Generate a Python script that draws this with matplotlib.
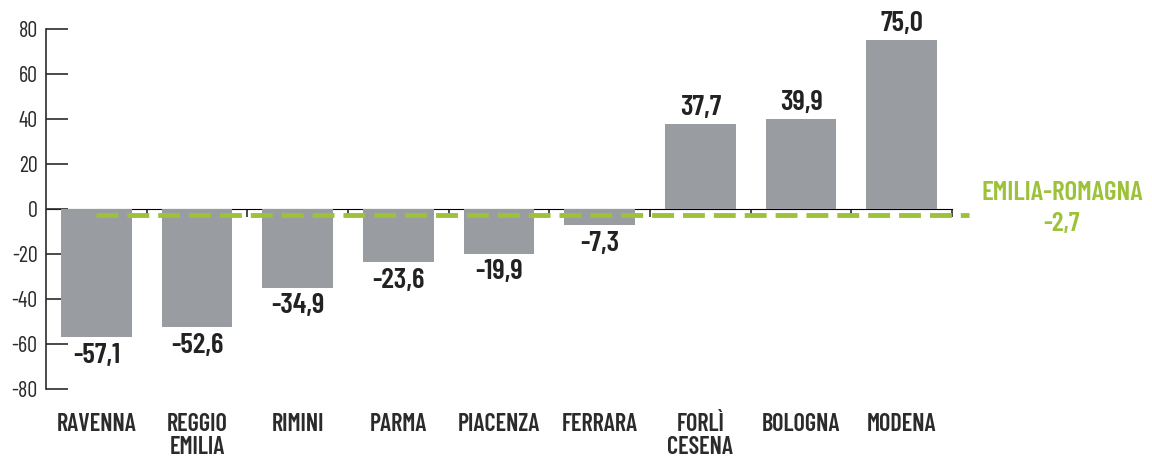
import matplotlib
matplotlib.use("Agg")
import matplotlib.pyplot as plt
from matplotlib import font_manager

categories = ["RAVENNA", "REGGIO\nEMILIA", "RIMINI", "PARMA", "PIACENZA", "FERRARA", "FORLÌ\nCESENA", "BOLOGNA", "MODENA"]
values = [-57.1, -52.6, -34.9, -23.6, -19.9, -7.3, 37.7, 39.9, 75.0]
region_name = "EMILIA-ROMAGNA"
region_value = -2.7
yticks = [-80, -60, -40, -20, 0, 20, 40, 60, 80]

names = {f.name for f in font_manager.fontManager.ttflist}
# font, (ytick size, category size, value size, region size)
candidates = [
    ("Barlow Condensed", (16, 17.5, 21, 19.5)),
    ("Roboto Condensed", (15, 15, 21, 17)),
]
FONT, SIZES = "DejaVu Sans", (13, 12, 17, 14)
for cand, sz in candidates:
    if cand in names:
        FONT, SIZES = cand, sz
        break
YT, CAT, VAL, REG = SIZES
plt.rcParams['font.family'] = [FONT, 'DejaVu Sans']

BAR = "#999da2"
GREEN = "#9dc23a"
DARK = "#2b2b2b"

fig = plt.figure(figsize=(11.52, 4.58), dpi=100)
ax = fig.add_axes([46/1152, 1-389/458, (952-46)/1152, (389-29)/458])

x = list(range(len(categories)))
ax.bar(x, values, width=0.7, color=BAR, zorder=2)

ax.set_xlim(-0.5, len(categories)-0.5)
ax.set_ylim(-80, 80)

for s in ["top", "right", "bottom"]:
    ax.spines[s].set_visible(False)
ax.spines["left"].set_color(DARK)
ax.spines["left"].set_linewidth(1.2)

ax.set_yticks(yticks)
ax.set_yticklabels([str(v) for v in yticks])
ax.tick_params(axis="y", direction="in", length=16, width=1.2, color=DARK, labelsize=YT, pad=6, labelcolor=DARK)

ax.set_xticks(x)
ax.set_xticklabels(categories, fontweight="semibold", fontsize=CAT, linespacing=1.0, color=DARK, va="top")
ax.tick_params(axis="x", length=0, pad=17)

# zero line with boundary ticks
sec = ax.secondary_xaxis(0.5)
sec.set_xticks([i + 0.5 for i in x])
sec.set_xticklabels([])
sec.tick_params(axis="x", direction="in", length=6, width=1.2, color=DARK)
sec.spines["bottom"].set_color(DARK)
sec.spines["bottom"].set_linewidth(1.2)
sec.set_zorder(1)

ax.plot([0, len(categories)-0.5+0.17], [region_value, region_value], color=GREEN, lw=3.5,
        dashes=(4.5, 1.85), zorder=3, clip_on=False, dash_capstyle="butt")

for xi, v in zip(x, values):
    txt = f"{v:.1f}".replace(".", ",")
    if v >= 0:
        ax.annotate(txt, (xi, v), xytext=(0, 3), textcoords="offset points", ha="center", va="bottom",
                    fontsize=VAL, fontweight="semibold", color="#222222")
    else:
        ax.annotate(txt, (xi, v), xytext=(0, -4), textcoords="offset points", ha="center", va="top",
                    fontsize=VAL, fontweight="semibold", color="#222222")

fig.text(1062/1152, 1-193/458, region_name, ha="center", va="center", fontsize=REG, fontweight="semibold", color=GREEN)
fig.text(1062/1152, 1-224/458, f"{region_value:.1f}".replace(".", ","), ha="center", va="center",
         fontsize=REG, fontweight="semibold", color=GREEN)

fig.savefig("out.png", dpi=100)
